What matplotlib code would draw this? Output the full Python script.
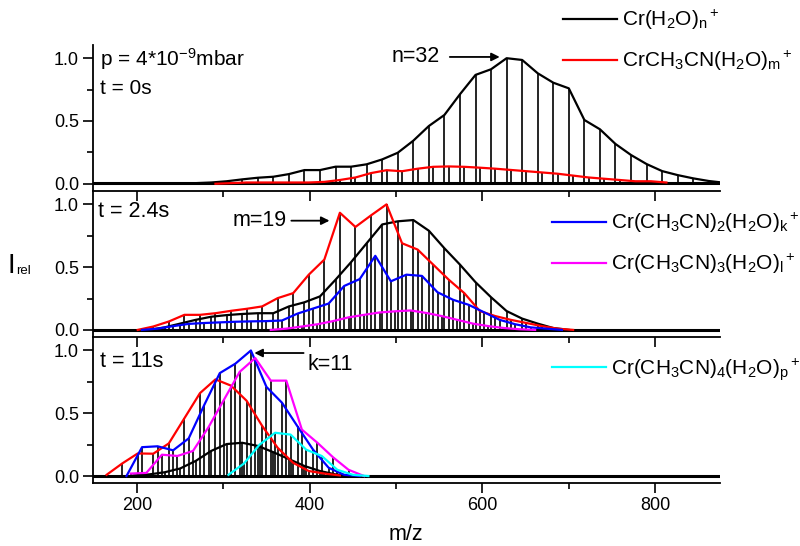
"""
Mass spectra of Cr(CH3CN)j(H2O)n+ clusters after different storage times.
"""

import numpy as np
import matplotlib.pyplot as plt

plt.rcParams["font.family"] = ["Liberation Sans", "DejaVu Sans"]
plt.rcParams["mathtext.fontset"] = "custom"
plt.rcParams["mathtext.rm"] = "Liberation Sans"
plt.rcParams["mathtext.it"] = "Liberation Sans:italic"
plt.rcParams["mathtext.default"] = "regular"

# base mass of each series (Cr + j CH3CN), every water adds 18
base_n = 52
base_m = 93
base_k = 134
base_l = 175
base_p = 216
water = 18

# t = 0 s
n_0 = np.arange(11, 47)
int_n_0 = [0.0, 0.005, 0.01, 0.02, 0.035, 0.048, 0.056, 0.077, 0.109, 0.109,
           0.136, 0.136, 0.155, 0.194, 0.247, 0.343, 0.46, 0.548, 0.713, 0.867,
           0.912, 1.0, 0.986, 0.88, 0.805, 0.76, 0.508, 0.434, 0.317, 0.229,
           0.157, 0.101, 0.069, 0.043, 0.022, 0.008]
m_0 = np.arange(11, 41)
int_m_0 = [0.0, 0.005, 0.01, 0.01, 0.01, 0.01, 0.01, 0.015, 0.03, 0.05,
           0.085, 0.108, 0.10, 0.12, 0.135, 0.138, 0.135, 0.128, 0.12, 0.11,
           0.10, 0.09, 0.08, 0.065, 0.05, 0.04, 0.03, 0.02, 0.02, 0.01]

# t = 2.4 s
n_1 = np.arange(9, 37)
int_n_1 = [0.0, 0.02, 0.05, 0.08, 0.105, 0.118, 0.127, 0.133, 0.133, 0.187,
           0.22, 0.267, 0.40, 0.54, 0.69, 0.84, 0.865, 0.875, 0.79, 0.65,
           0.52, 0.38, 0.26, 0.15, 0.09, 0.05, 0.015, 0.0]
m_1 = np.arange(6, 35)
int_m_1 = [0.0, 0.027, 0.067, 0.12, 0.12, 0.133, 0.152, 0.168, 0.187, 0.253,
           0.293, 0.44, 0.56, 0.933, 0.82, 0.912, 1.0, 0.69, 0.64, 0.52,
           0.4, 0.293, 0.15, 0.11, 0.08, 0.055, 0.03, 0.01, 0.0]
k_1 = np.arange(4, 32)
int_k_1 = [0.0, 0.01, 0.03, 0.048, 0.055, 0.06, 0.065, 0.068, 0.07, 0.075,
           0.13, 0.17, 0.21, 0.35, 0.405, 0.59, 0.387, 0.44, 0.43, 0.3,
           0.24, 0.2, 0.14, 0.08, 0.045, 0.02, 0.01, 0.0]
l_1 = np.arange(10, 28)
int_l_1 = [0.0, 0.01, 0.027, 0.045, 0.07, 0.1, 0.12, 0.139, 0.148, 0.155,
           0.135, 0.11, 0.08, 0.05, 0.03, 0.015, 0.005, 0.0]

# t = 11 s
n_2 = np.arange(8, 23)
int_n_2 = [0.005, 0.013, 0.03, 0.06, 0.12, 0.2, 0.255, 0.265, 0.24, 0.19,
           0.135, 0.08, 0.04, 0.013, 0.0]
m_2 = np.arange(4, 20)
int_m_2 = [0.01, 0.1, 0.18, 0.178, 0.26, 0.46, 0.66, 0.77, 0.72, 0.6,
           0.4, 0.225, 0.105, 0.04, 0.02, 0.005]
k_2 = np.arange(3, 19)
int_k_2 = [0.0, 0.23, 0.237, 0.205, 0.3, 0.566, 0.82, 0.895, 1.0, 0.71,
           0.584, 0.395, 0.21, 0.066, 0.01, 0.0]
l_2 = np.arange(1, 17)
int_l_2 = [0.02, 0.025, 0.17, 0.16, 0.2, 0.39, 0.61, 0.83, 0.94, 0.76,
           0.76, 0.37, 0.265, 0.15, 0.05, 0.0]
p_2 = np.arange(5, 15)
int_p_2 = [0.01, 0.1, 0.25, 0.345, 0.33, 0.21, 0.16, 0.05, 0.01, 0.0]

labels = {
    "n": r"Cr(H$_2$O)$_n$$^+$",
    "m": r"CrCH$_3$CN(H$_2$O)$_m$$^+$",
    "k": r"Cr(CH$_3$CN)$_2$(H$_2$O)$_k$$^+$",
    "l": r"Cr(CH$_3$CN)$_3$(H$_2$O)$_l$$^+$",
    "p": r"Cr(CH$_3$CN)$_4$(H$_2$O)$_p$$^+$",
}
colors = {"n": "black", "m": "red", "k": "blue", "l": "magenta", "p": "cyan"}
bases = {"n": base_n, "m": base_m, "k": base_k, "l": base_l, "p": base_p}

panels = [
    {"n": (n_0, int_n_0), "m": (m_0, int_m_0)},
    {"n": (n_1, int_n_1), "m": (m_1, int_m_1), "k": (k_1, int_k_1),
     "l": (l_1, int_l_1)},
    {"n": (n_2, int_n_2), "m": (m_2, int_m_2), "k": (k_2, int_k_2),
     "l": (l_2, int_l_2), "p": (p_2, int_p_2)},
]
legend_keys = [["n", "m"], ["k", "l"], ["p"]]
legend_pos = [(563, 8), (552, 211), (552, 356)]  # pixels from top left

fig, axes = plt.subplots(3, 1, sharex=True, figsize=(8, 5.46), dpi=100,
                         gridspec_kw=dict(hspace=0))
fig.subplots_adjust(left=0.116, right=0.9, top=0.918, bottom=0.115)

for ax, panel, keys, pos in zip(axes, panels, legend_keys, legend_pos):
    ax.set_facecolor("none")
    ax.axhline(0.003, color="black", lw=2.2, zorder=2)
    lines = {}
    for key, (size, inten) in panel.items():
        mz = bases[key] + water * size
        ax.vlines(mz, 0, inten, colors="black", lw=1.2, zorder=2)
    for key, (size, inten) in panel.items():
        mz = bases[key] + water * size
        (lines[key],) = ax.plot(mz, inten, color=colors[key], lw=1.6,
                                zorder=3, label=labels[key])
    ax.legend([lines[k] for k in keys], [labels[k] for k in keys],
              loc="upper left", bbox_to_anchor=(pos[0] / 800, 1 - pos[1] / 546),
              bbox_transform=fig.transFigure, frameon=False, fontsize=15,
              handlelength=2.6, handletextpad=0.25, labelspacing=0.8,
              borderpad=0, borderaxespad=0)

    ax.set_xlim(149, 875)
    ax.set_ylim(-0.057, 1.107)
    ax.set_yticks([0.0, 0.5, 1.0])
    ax.set_yticks([0.25, 0.75], minor=True)
    ax.set_yticklabels(["0.0", "0.5", "1.0"])
    ax.set_xticks([200, 400, 600, 800])
    ax.set_xticks([300, 500, 700], minor=True)
    ax.spines["top"].set_visible(False)
    ax.spines["right"].set_visible(False)
    for s in ("left", "bottom"):
        ax.spines[s].set_linewidth(1.3)
    ax.tick_params(which="major", direction="out", length=7, width=1.2,
                   labelsize=13, pad=3, bottom=True)
    ax.tick_params(which="minor", direction="out", length=4, width=1.2,
                   bottom=True)

# annotations
ax1, ax2, ax3 = axes
ax1.text(0.012, 0.9, r"p = 4*10$^{-9}$mbar", transform=ax1.transAxes,
         fontsize=15, va="center")
ax1.text(0.012, 0.7, "t = 0s", transform=ax1.transAxes, fontsize=15,
         va="center")
ax1.annotate("n=32", xy=(620, 1.01), xytext=(551, 1.01), ha="right",
             va="center", fontsize=15.5,
             arrowprops=dict(arrowstyle="-|>", color="black", lw=1.3,
                             mutation_scale=12, shrinkA=5, shrinkB=0))
ax2.text(0.008, 0.86, "t = 2.4s", transform=ax2.transAxes, fontsize=15.5,
         va="center")
ax2.annotate("m=19", xy=(423, 0.87), xytext=(374, 0.87), ha="right",
             va="center", fontsize=15.5,
             arrowprops=dict(arrowstyle="-|>", color="black", lw=1.3,
                             mutation_scale=12, shrinkA=1, shrinkB=0))
ax3.text(0.012, 0.83, "t = 11s", transform=ax3.transAxes, fontsize=15.5,
         va="center")
ax3.annotate("", xy=(336, 0.98), xytext=(393, 0.98),
             arrowprops=dict(arrowstyle="-|>", color="black", lw=1.3,
                             mutation_scale=12, shrinkA=0, shrinkB=0))
ax3.text(397, 0.89, "k=11", fontsize=15.5, va="center")

ax3.set_xticklabels(["200", "400", "600", "800"])
fig.text(406 / 800, 1 - 540 / 546, "m/z", fontsize=15.5, ha="center",
         va="baseline")
fig.text(7 / 800, 1 - 273 / 546, "I", fontsize=20, ha="left", va="baseline")
fig.text(16 / 800, 1 - 274 / 546, "rel", fontsize=9.5, ha="left",
         va="baseline")

fig.savefig("out.png", dpi=100)
